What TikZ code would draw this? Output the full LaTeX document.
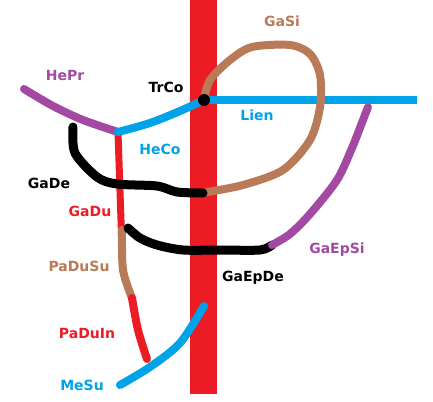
\documentclass[tikz,border=0pt]{standalone}
\usepackage{fontspec}
\setsansfont{DejaVu Sans}
\usepackage{tikz}
\definecolor{pred}{HTML}{ED1C24}
\definecolor{pblue}{HTML}{00A2E8}
\definecolor{ppurple}{HTML}{A349A4}
\definecolor{pbrown}{HTML}{B97A57}

\begin{document}
\begin{tikzpicture}[x=1pt, y=-1pt, line cap=round, line join=round,
  pen/.style={line width=8pt},
  lbl/.style={font=\sffamily\bfseries\fontsize{14}{16}\selectfont, inner sep=0pt}]

\useasboundingbox (0,0) rectangle (433,401);

% Wall (red bar)
\fill[pred] (190,0) rectangle (217,394);

% Junction points
\coordinate (heprend) at (24,89);
\coordinate (heco) at (118,132);
\coordinate (trco) at (204,100);
\coordinate (lienend) at (417,100);
\coordinate (gadeend) at (73,127);
\coordinate (gadewall) at (203,193);
\coordinate (gasiend) at (207,192);
\coordinate (gadu) at (122,250);
\coordinate (padusu) at (122,230);
\coordinate (paduin) at (132,298);
\coordinate (paduinend) at (147,359);
\coordinate (mesuend) at (120,385);
\coordinate (mesuwall) at (204,306);
\coordinate (gaepde) at (128,228);
\coordinate (gaep) at (272,245);
\coordinate (gaepsiend) at (368,107);

% Red line (left)
\draw[pen, line width=7pt, pred] (heco) -- (gadu);
% Brown line (left)
\draw[pen, pbrown] plot[smooth] coordinates {(padusu) (123,270) (paduin)};
% Red line (lower left)
\draw[pen, pred] plot[smooth] coordinates {(paduin) (138,330) (paduinend)};

% Purple (upper left)
\draw[pen, ppurple] plot[smooth] coordinates {(heprend) (53,106) (83,120) (heco)};
% Blue (upper left)
\draw[pen, pblue] plot[smooth] coordinates {(heco) (150,123) (180,111) (trco)};
% Blue (right)
\draw[pen, pblue, line cap=butt] (trco) -- (lienend);

% Brown loop
\draw[pen, pbrown] plot[smooth] coordinates {(trco) (210,80) (230,60) (252,47)
  (290,45) (310,54) (320,75) (320,107) (310,140) (283,170) (243,185) (gasiend)};

% Black (upper)
\draw[pen, line width=9pt] plot[smooth] coordinates {(gadeend) (75,153) (97,177)
  (117,184) (157,186) (177,192) (gadewall)};

% Black (lower)
\draw[pen, line width=9pt] plot[smooth] coordinates {(gaepde) (140,238) (157,245)
  (183,250) (220,250) (260,250) (gaep)};
% Purple (right)
\draw[pen, ppurple] plot[smooth] coordinates {(gaep) (290,234) (310,214)
  (337,180) (352,148) (363,120) (gaepsiend)};

% Blue (bottom)
\draw[pen, pblue] plot[smooth] coordinates {(mesuend) (150,367) (180,343) (mesuwall)};

% Junction dot
\fill (trco) circle (6);

% Labels
\node[lbl, text=ppurple] (hepr) at (65,75) {HePr};
\node[lbl] (trcolbl) at (166,87) {TrCo};
\node[lbl, text=pblue] (hecolbl) at (160,149) {HeCo};
\node[lbl] (gade) at (49,183) {GaDe};
\node[lbl, text=pbrown] (gasi) at (282,21) {GaSi};
\node[lbl, text=pblue] (lien) at (257,115) {Lien};
\node[lbl, text=pred] (gadulbl) at (90,211) {GaDu};
\node[lbl, text=pbrown] (padusulbl) at (79,266) {PaDuSu};
\node[lbl, text=pred] (paduinlbl) at (87,333) {PaDuIn};
\node[lbl, text=pblue] (mesu) at (82,385) {MeSu};
\node[lbl, text=ppurple] (gaepsi) at (337,250) {GaEpSi};
\node[lbl] (gaepdelbl) at (253,278) {GaEpDe};

\end{tikzpicture}
\end{document}
